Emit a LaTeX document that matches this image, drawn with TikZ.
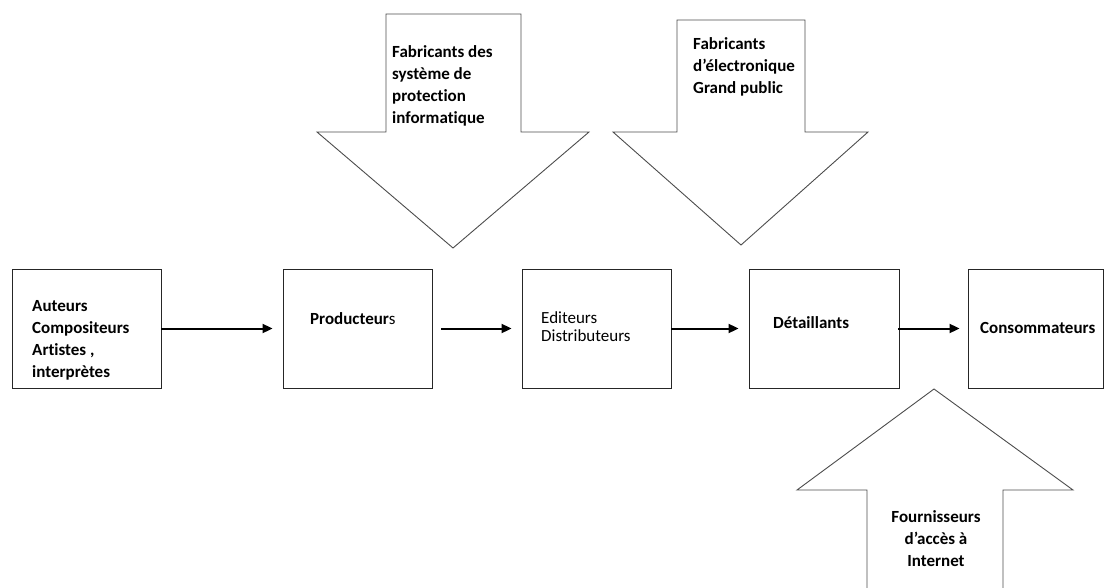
\documentclass[tikz,border=0pt]{standalone}
\usepackage{fontspec}
\setmainfont{Carlito}[Ligatures = NoCommon]
\usetikzlibrary{arrows.meta}
\tikzstyle{boxStyle}=[shape = rectangle, draw = black!85, line width = 0.9pt, minimum width = 149pt, minimum height = 119pt, inner sep = 0pt]
\tikzstyle{bigArrow}=[draw = black!70, line width = 0.9pt, line join = miter]
\tikzstyle{flowArrow}=[line width = 2pt, -{Triangle[length = 10pt, width = 9pt]}, shorten > = 10pt]
\tikzstyle{labelText}=[inner sep = 0pt, align = left, font = \fontsize{17}{22}\selectfont\bfseries]

\begin{document}
\begin{tikzpicture}[x = 1pt, y = -1pt]
\useasboundingbox (0,0) rectangle (1105,588);
% the five boxes of the chain
\node[boxStyle] (auteurs) at (86.5,328.5) {};
\node[boxStyle] (producteurs) at (357.5,328.5) {};
\node[boxStyle] (editeurs) at (596.5,328.5) {};
\node[boxStyle, minimum width = 150pt] (detaillants) at (824,328.5) {};
\node[boxStyle, minimum width = 135pt] (consommateurs) at (1035.5,328.5) {};
\node[labelText, anchor = west] (tAuteurs) at (32,340) {Auteurs\\Compositeurs\\Artistes ,\\interprètes};
\node[labelText, anchor = west] (tProducteurs) at (310,319) {Producteur\textmd{s}};
\node[labelText, anchor = west, font = \fontsize{17}{18}\selectfont] (tEditeurs) at (541,327) {Editeurs\\Distributeurs};
\node[labelText, anchor = west] (tDetaillants) at (773,323) {Détaillants};
\node[labelText, anchor = west] (tConsommateurs) at (980,328) {Consommateurs};
% flow
\draw[flowArrow] (auteurs.east) -- (producteurs.west);
\draw[flowArrow, shorten < = 9pt] (producteurs.east) -- (editeurs.west);
\draw[flowArrow] (editeurs.east) -- (detaillants.west);
\draw[flowArrow, shorten < = -1pt, shorten > = 8pt] (detaillants.east) -- (consommateurs.west);
% big arrows
\draw[bigArrow] (386,14) -- (521,14) -- (521,132) -- (589,132) -- (453,248) -- (317,132) -- (386,132) -- cycle;
\node[labelText, anchor = west] (tProtection) at (392,86) {Fabricants des\\système de\\protection\\informatique};
\draw[bigArrow] (677,20) -- (805,20) -- (805,132) -- (868,132) -- (741,245) -- (613,132) -- (677,132) -- cycle;
\node[labelText, anchor = west] (tElectronique) at (693,67) {Fabricants\\d’électronique\\Grand public};
\draw[bigArrow] (867,592) -- (867,490) -- (797,490) -- (934,389) -- (1073,490) -- (1003,490) -- (1003,592);
\node[labelText, align = center] (tFournisseurs) at (936,539) {Fournisseurs\\d’accès à\\Internet};
\end{tikzpicture}
\end{document}
